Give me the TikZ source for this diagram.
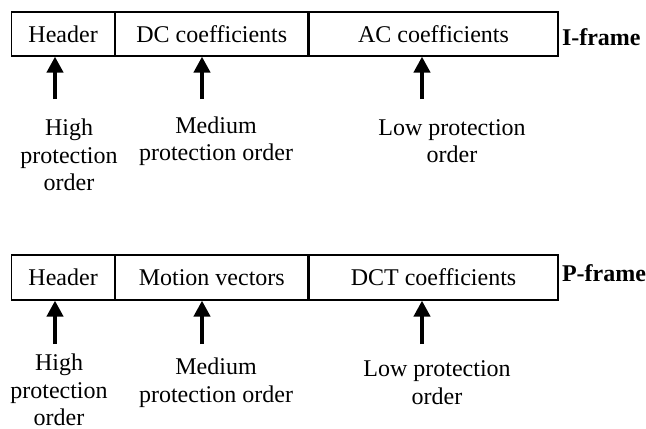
\documentclass[tikz,border=0pt]{standalone}
\usepackage{fontspec}
\setmainfont{Liberation Serif}
\usetikzlibrary{arrows.meta}
\begin{document}
\begin{tikzpicture}[x=0.5pt,y=-0.5pt,
seg/.style={draw,line width=0.6pt,minimum height=22pt,inner sep=0pt,anchor=west,font=\fontsize{12}{14}\selectfont},
lbl/.style={align=center,font=\fontsize{12}{13.75}\selectfont},
fname/.style={anchor=west,inner sep=1.5pt,font=\fontsize{12}{14}\selectfont\bfseries},
up/.style={-{Triangle[length=8pt,width=8pt]},line width=2pt}]
\useasboundingbox (0,0) rectangle (646,428);
% I-frame
\node[seg,minimum width=51.5pt] (ihdr) at (11,34) {Header};
\node[seg,minimum width=96pt] (idc) at (ihdr.east) {DC coefficients};
\node[seg,minimum width=124.5pt] (iac) at (idc.east) {AC coefficients};
\node[fname,yshift=-1.5pt] (iname) at (iac.east) {I-frame};
\coordinate (ia) at (55,99);
\coordinate (ib) at (202,99);
\coordinate (ic) at (422,99);
\draw[up](ia)--(ia|-ihdr.south);
\draw[up](ib)--(ib|-idc.south);
\draw[up](ic)--(ic|-iac.south);
\node[lbl] (ihigh) at (69,155) {High\\protection\\order};
\node[lbl] (imed) at (216,141) {Medium\\protection order};
\node[lbl] (ilow) at (452,141) {Low protection\\order};
% P-frame
\node[seg,minimum width=51.5pt,minimum height=22.5pt] (phdr) at (11,277.5) {Header};
\node[seg,minimum width=96pt,minimum height=22.5pt] (pmv) at (phdr.east) {Motion vectors};
\node[seg,minimum width=124.5pt,minimum height=22.5pt] (pdct) at (pmv.east) {DCT coefficients};
\node[fname,yshift=2pt] (pname) at (pdct.east) {P-frame};
\coordinate (pa) at (55,344);
\coordinate (pb) at (202,344);
\coordinate (pc) at (422,344);
\draw[up](pa)--(pa|-phdr.south);
\draw[up](pb)--(pb|-pmv.south);
\draw[up](pc)--(pc|-pdct.south);
\node[lbl] (phigh) at (59,390) {High\\protection\\order};
\node[lbl] (pmed) at (216,382.5) {Medium\\protection order};
\node[lbl] (plow) at (437,382.5) {Low protection\\order};
\end{tikzpicture}
\end{document}
